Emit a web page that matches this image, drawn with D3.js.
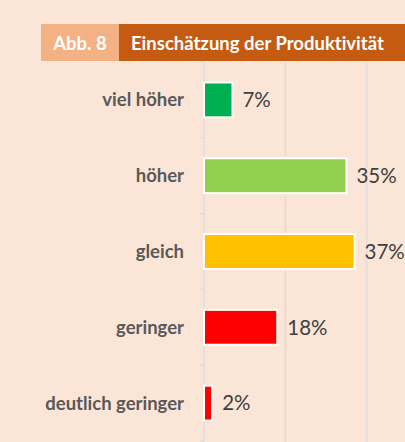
<!DOCTYPE html>
<html>
<head>
    <meta charset="utf-8">
    <style>
        body {
            margin: 0;
            background: #fbe5d6;
            font-family: Lato, 'Noto Sans', sans-serif;
            font-variant-ligatures: none;
        }

        svg {
            display: block;
        }

        text {
            font-variant-ligatures: none;
        }

        .cat-label {
            font-size: 18.5px;
            font-weight: 700;
            fill: #595959;
        }

        .val-label {
            font-size: 20.5px;
            fill: #404040;
        }

        .head {
            font-size: 18.5px;
            font-weight: 700;
            fill: #ffffff;
        }
    </style>
</head>
<body>
<svg width="405" height="442"></svg>

<script src="https://d3js.org/d3.v7.min.js"></script>
<script>
    // data
    let categories = ["viel höher", "höher", "gleich", "geringer", "deutlich geringer"]
    let values = [7, 35, 37, 18, 2]
    let barColors = ["#00b050", "#92d050", "#ffc000", "#ff0000", "#ff0000"]
    let gridValues = [20, 40]

    let svg = d3.select("svg")

    let width = 405
    let height = 442
    let margin = { top: 62, right: 0, bottom: 1, left: 204 }

    // header band
    svg.append("rect")
        .attr("x", 41).attr("y", 24)
        .attr("width", 78).attr("height", 37)
        .attr("fill", "#f4b183")

    svg.append("rect")
        .attr("x", 119).attr("y", 24)
        .attr("width", width - 119).attr("height", 37)
        .attr("fill", "#c55a11")

    svg.append("text")
        .attr("class", "head")
        .attr("x", 80).attr("y", 49.5)
        .attr("text-anchor", "middle")
        .text("Abb. 8")

    svg.append("text")
        .attr("class", "head")
        .attr("x", 131).attr("y", 49.5)
        .text("Einschätzung der Produktivität")

    let x = d3.scaleLinear()
        .domain([0, 60])
        .range([margin.left, margin.left + 4.07 * 60])

    let y = d3.scaleBand()
        .domain(categories)
        .range([margin.top, height - margin.bottom])
        .paddingInner(0.54)
        .paddingOuter(0.27)

    // vertical gridlines
    svg.append("g")
        .selectAll("line")
        .data(gridValues)
        .join("line")
        .attr("x1", d => x(d)).attr("x2", d => x(d))
        .attr("y1", margin.top).attr("y2", height)
        .attr("stroke", "#d9d9d9")
        .attr("stroke-width", 1)

    // category axis line with small ticks on band boundaries
    let step = y.step()
    let boundaries = d3.range(categories.length + 1).map(i => y.range()[0] + i * step)

    svg.append("line")
        .attr("x1", x(0)).attr("x2", x(0))
        .attr("y1", margin.top).attr("y2", height)
        .attr("stroke", "#d9d9d9")

    svg.append("g")
        .selectAll("line")
        .data(boundaries)
        .join("line")
        .attr("x1", x(0) - 4).attr("x2", x(0))
        .attr("y1", d => d).attr("y2", d => d)
        .attr("stroke", "#d9d9d9")

    // bars
    svg.append("g")
        .selectAll("rect")
        .data(categories)
        .join("rect")
        .attr("x", x(0))
        .attr("y", d => y(d))
        .attr("width", (d, i) => x(values[i]) - x(0))
        .attr("height", y.bandwidth())
        .attr("fill", (d, i) => barColors[i])
        .attr("stroke", "#ffffff")
        .attr("stroke-width", 2)

    // category labels
    svg.append("g")
        .selectAll("text")
        .data(categories)
        .join("text")
        .attr("class", "cat-label")
        .attr("x", 184)
        .attr("y", d => y(d) + y.bandwidth() / 2)
        .attr("dy", "0.35em")
        .attr("text-anchor", "end")
        .text(d => d)

    // value labels
    svg.append("g")
        .selectAll("text")
        .data(categories)
        .join("text")
        .attr("class", "val-label")
        .attr("x", (d, i) => x(values[i]) + 10)
        .attr("y", d => y(d) + y.bandwidth() / 2)
        .attr("dy", "0.36em")
        .text((d, i) => values[i] + "%")
</script>
</body>
</html>
